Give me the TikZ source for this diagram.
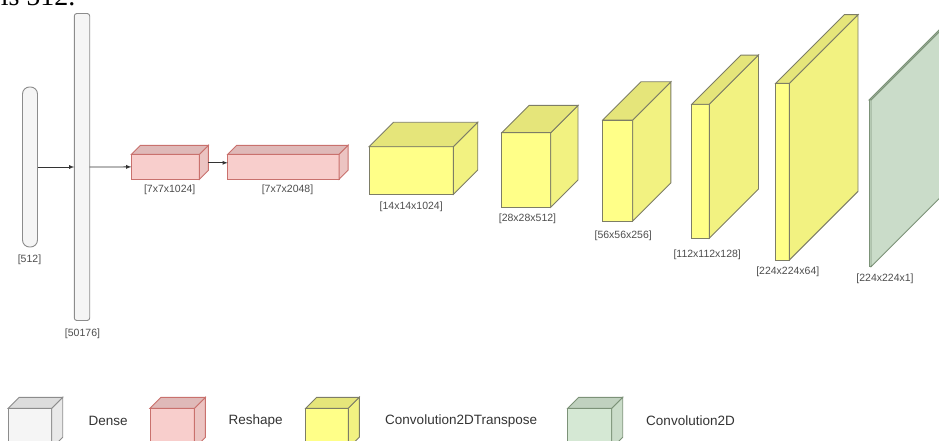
\documentclass[tikz,border=0pt]{standalone}
\usepackage{fontspec}
\setmainfont{Liberation Sans}
\newfontfamily\pageserif{Liberation Serif}
\usepackage{tikz}
\usetikzlibrary{%
  arrows,%
  positioning,%
  calc%
}

\definecolor{densefill}{HTML}{F5F5F5}
\definecolor{denseline}{HTML}{8C8C8C}
\definecolor{reshapefill}{HTML}{F8CECC}
\definecolor{reshapeline}{HTML}{C9716D}
\definecolor{deconvfill}{HTML}{FFFF88}
\definecolor{deconvline}{HTML}{7D7D66}
\definecolor{convfill}{HTML}{D5E8D4}
\definecolor{convline}{HTML}{7C9278}
\definecolor{labelgray}{HTML}{4D4D4D}

% side and top faces of a layer box
\newcommand{\boxfaces}[3]{%
  \draw[#3 side] (#1.north east) -- ++(#2,-#2) -- ([shift={(#2,-#2)}]#1.south east) -- (#1.south east) -- cycle;
  \draw[#3 top] (#1.north west) -- ++(#2,-#2) -- ([shift={(#2,-#2)}]#1.north east) -- (#1.north east) -- cycle;
}

\begin{document}
\begin{tikzpicture}[x=1pt, y=-1pt,
    layer/.style={rectangle, inner sep=0pt, outer sep=0pt, line width=0.9pt},
    dense/.style={layer, draw=denseline, fill=densefill},
    dense side/.style={layer, draw=denseline, fill=densefill!95!black},
    dense top/.style={layer, draw=denseline, fill=densefill!90!black},
    reshape/.style={layer, draw=reshapeline, fill=reshapefill},
    reshape side/.style={layer, draw=reshapeline, fill=reshapefill!95!black},
    reshape top/.style={layer, draw=reshapeline, fill=reshapefill!90!black},
    deconv/.style={layer, draw=deconvline, fill=deconvfill},
    deconv side/.style={layer, draw=deconvline, fill=deconvfill!95!black},
    deconv top/.style={layer, draw=deconvline, fill=deconvfill!90!black},
    conv/.style={layer, draw=convline, fill=convfill},
    conv side/.style={layer, draw=convline, fill=convfill!95!black},
    conv top/.style={layer, draw=convline, fill=convfill!90!black},
    size/.style={font=\fontsize{10.5}{12}\selectfont, text=labelgray},
    legend text/.style={font=\fontsize{13.5}{16}\selectfont, text=black!80, anchor=west},
    flow/.style={-latex, draw=black!80, line width=0.8pt}
]
    \useasboundingbox (0,0) rectangle (939,441);
    \clip (0,0) rectangle (939,441);
    \node[anchor=base east, font=\pageserif\fontsize{28}{30}\selectfont] (pagetext) at (79,6) {is 512.};

    % dense layers
    \node[dense, rounded corners=7pt, minimum width=15pt, minimum height=160pt] (d1) at (30,167) {};
    \node[dense, rounded corners=2.5pt, minimum width=15.4pt, minimum height=307pt] (d2) at (82,167) {};
    \node[size] (ld1) at (29.5,260) {[512]};
    \node[size] (ld2) at (82.5,334) {[50176]};

    % reshape layers
    \node[reshape, minimum width=68pt, minimum height=25pt] (r1) at (165.4,166.8) {};
    \boxfaces{r1}{9}{reshape}
    \node[reshape, minimum width=111.3pt, minimum height=25pt] (r2) at (283.4,166.8) {};
    \boxfaces{r2}{9}{reshape}
    \node[size] (lr1) at (169.7,189.3) {[7x7x1024]};
    \node[size] (lr2) at (287.5,189.3) {[7x7x2048]};

    % transposed convolutions
    \node[deconv, minimum width=84.3pt, minimum height=47.6pt] (c1) at (411.2,170.5) {};
    \boxfaces{c1}{24.4}{deconv}
    \node[deconv, minimum width=49pt, minimum height=74.6pt] (c2) at (526.2,170) {};
    \boxfaces{c2}{27.3}{deconv}
    \node[deconv, minimum width=30pt, minimum height=101pt] (c3) at (617.7,170.5) {};
    \boxfaces{c3}{38.2}{deconv}
    \node[deconv, minimum width=17.6pt, minimum height=134pt] (c4) at (700.5,171.3) {};
    \boxfaces{c4}{49.2}{deconv}
    \node[deconv, minimum width=13.6pt, minimum height=176.7pt] (c5) at (782.5,171.7) {};
    \boxfaces{c5}{68.7}{deconv}
    \node[size] (lc1) at (411.2,206.7) {[14x14x1024]};
    \node[size] (lc2) at (527.5,218.3) {[28x28x512]};
    \node[size] (lc3) at (623.2,235.7) {[56x56x256]};
    \node[size] (lc4) at (707.2,255) {[112x112x128]};
    \node[size] (lc5) at (787.8,271.7) {[224x224x64]};

    % output convolution
    \node[conv, minimum width=2pt, minimum height=166.7pt] (g1) at (870,183.3) {};
    \boxfaces{g1}{100}{conv}
    \node[size] (lg1) at (885,279) {[224x224x1]};

    \draw[flow] (d1) -- (d2);
    \draw[flow] (d2) -- (r1);
    \draw[flow] ([xshift=9pt,yshift=4pt]r1.east) -- ([yshift=4pt]r2.west);

    % legend
    \node[dense, minimum width=43.4pt, minimum height=40pt] (kd) at (30,428.3) {};
    \boxfaces{kd}{11}{dense}
    \node[reshape, minimum width=44.3pt, minimum height=40pt] (kr) at (172.2,428.3) {};
    \boxfaces{kr}{11}{reshape}
    \node[deconv, minimum width=42.6pt, minimum height=40pt] (kc) at (327,428.3) {};
    \boxfaces{kc}{11}{deconv}
    \node[conv, minimum width=44pt, minimum height=40pt] (kg) at (589.7,428.3) {};
    \boxfaces{kg}{11}{conv}
    \node[legend text] (td) at (85,420.7) {Dense};
    \node[legend text] (tr) at (225,420.7) {Reshape};
    \node[legend text] (tc) at (381.7,420.7) {Convolution2DTranspose};
    \node[legend text] (tg) at (642.7,420.7) {Convolution2D};
\end{tikzpicture}
\end{document}
